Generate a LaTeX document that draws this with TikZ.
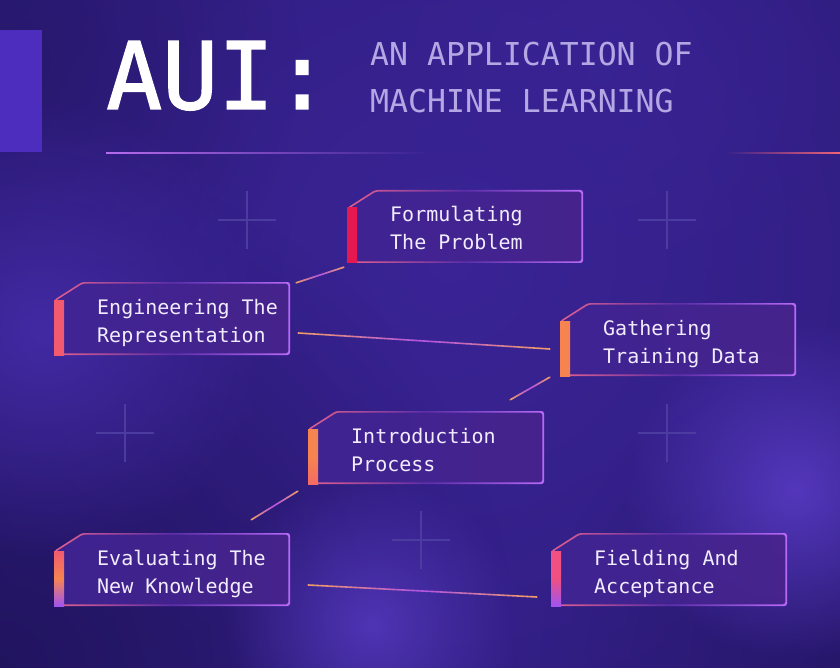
\documentclass[tikz,border=0pt]{standalone}
\usepackage{fontspec}
\setmonofont{DejaVu Sans Mono}
\newfontfamily\titlefont{DejaVu Sans Mono}[FakeBold=1.6]
\usetikzlibrary{calc,fadings}

\definecolor{bgbase}{RGB}{44,27,118}
\definecolor{bglight}{RGB}{58,36,150}
\definecolor{bgdark}{RGB}{30,18,88}
\definecolor{blobA}{RGB}{72,46,175}
\definecolor{blobB}{RGB}{88,58,195}
\definecolor{leftbar}{RGB}{76,45,190}
\definecolor{subcol}{RGB}{180,168,228}
\definecolor{ulviolet}{RGB}{184,108,240}
\definecolor{ulpink}{RGB}{240,100,120}
\definecolor{crosscol}{RGB}{76,60,160}
\definecolor{boxL}{RGB}{64,36,148}
\definecolor{boxR}{RGB}{72,36,140}
\definecolor{bdL}{RGB}{228,96,142}
\definecolor{bdM}{RGB}{92,46,168}
\definecolor{bdR}{RGB}{184,106,248}
\definecolor{txtcol}{RGB}{242,236,255}
\definecolor{lpeach}{RGB}{242,158,100}
\definecolor{lviolet}{RGB}{176,82,226}
\definecolor{crimson}{RGB}{230,24,80}
\definecolor{coral}{RGB}{242,90,112}
\definecolor{orng}{RGB}{246,132,80}
\definecolor{pinkb}{RGB}{240,80,130}
\definecolor{violb}{RGB}{160,84,240}

\tikzfading[name=glow, inner color=transparent!0, outer color=transparent!100]
\tikzfading[name=fadeR, left color=transparent!0, right color=transparent!100]
\tikzfading[name=fadeL, left color=transparent!100, right color=transparent!0]

\tikzset{
  boxbound/.style={rectangle, draw=none, inner sep=0pt, minimum width=236pt, minimum height=73pt},
  lbl/.style={anchor=base west, inner sep=0pt, text=txtcol, font=\ttfamily\fontsize{20}{24}\selectfont},
  crossline/.style={draw=crosscol, line width=1.4pt},
}

% #1 name, #2 left, #3 top, #4 bar top, #5 bar middle, #6 bar bottom, #7 line 1, #8 line 2
\newcommand\flowbox[8]{%
  \node[boxbound] (#1) at (#2+118,#3+36.5) {};
  \shade[left color=boxL, right color=boxR, fill opacity=0.9, rounded corners=2.5pt]
    (#2,#3+73) -- (#2,#3+18) -- (#2+28,#3) -- (#2+236,#3) -- (#2+236,#3+73) -- cycle;
  \shade[left color=bdL, right color=bdR, middle color=bdM, even odd rule, rounded corners=2.5pt]
    (#2,#3+73) -- (#2,#3+18) -- (#2+28,#3) -- (#2+236,#3) -- (#2+236,#3+73) -- cycle
    (#2+1.6,#3+71.4) -- (#2+1.6,#3+18.7) -- (#2+28.7,#3+1.6) -- (#2+234.4,#3+1.6) -- (#2+234.4,#3+71.4) -- cycle;
  \shade[top color=#4, bottom color=#6, middle color=#5] (#2,#3+18) rectangle (#2+10,#3+73);
  \node[lbl] (#1a) at (#2+43,#3+32) {#7};
  \node[lbl] (#1b) at (#2+43,#3+60) {#8};
}

\newcommand\plusmark[2]{%
  \draw[crossline] (#1,#2-29) -- (#1,#2+29) (#1-29,#2) -- (#1+29,#2);
}

\newcommand\gradconn[2]{%
  \foreach \k in {0,...,23}{%
    \pgfmathtruncatemacro\pc{abs((\k+0.5)/24*2-1)*100}%
    \draw[line width=1.6pt, line cap=round, color=lpeach!\pc!lviolet]
      ($(#1)!\k/24!(#2)$) -- ($(#1)!\k/24+1/24!(#2)$);
  }%
}

\begin{document}
\begin{tikzpicture}[x=1pt,y=-1pt]
\useasboundingbox (0,0) rectangle (840,668);
% background
\fill[bgbase] (0,0) rectangle (840,668);
\fill[bglight, path fading=glow] (450,260) circle (760);
\fill[bgdark, path fading=glow, opacity=0.8] (0,668) circle (520);
\fill[bgdark, path fading=glow, opacity=0.5] (0,60) circle (300);
\fill[bgdark, path fading=glow, opacity=0.5] (840,668) circle (300);
\fill[blobA, path fading=glow, opacity=0.8] (40,330) circle (230);
\fill[blobB, path fading=glow, opacity=0.9] (795,490) circle (170);
\fill[blobB, path fading=glow, opacity=0.8] (372,625) circle (150);
\fill[bglight, path fading=glow, opacity=0.7] (600,70) circle (260);

% left accent block
\fill[leftbar] (0,30) rectangle (42,152);

% title
\node[anchor=base west, inner sep=0pt, text=white, font=\titlefont\fontsize{93}{93}\selectfont] (title) at (106,109) {AUI:};
\node[anchor=base west, inner sep=0pt, text=subcol, font=\ttfamily\fontsize{31.5}{32}\selectfont] (sub1) at (370,66) {AN APPLICATION OF};
\node[anchor=base west, inner sep=0pt, text=subcol, font=\ttfamily\fontsize{31.5}{32}\selectfont] (sub2) at (370,113) {MACHINE LEARNING};

% underline
\fill[ulviolet, path fading=fadeR] (106,152.2) rectangle (430,154);
\fill[ulpink, path fading=fadeL] (725,152.2) rectangle (840,154);

% crosses
\plusmark{247}{220}
\plusmark{667}{220}
\plusmark{125}{433}
\plusmark{667}{433}
\plusmark{421}{540}

% boxes
\flowbox{b1}{347}{190}{crimson}{crimson}{crimson}{Formulating}{The Problem}
\flowbox{b2}{54}{282}{coral}{coral}{coral}{Engineering The}{Representation}
\flowbox{b3}{560}{303}{orng}{orng}{orng}{Gathering}{Training Data}
\flowbox{b4}{308}{411}{orng}{orng}{coral!60!orng}{Introduction}{Process}
\flowbox{b5}{54}{533}{coral}{orng}{violb}{Evaluating The}{New Knowledge}
\flowbox{b6}{551}{533}{pinkb}{pinkb}{violb}{Fielding And}{Acceptance}

% connectors
\coordinate (c1s) at ($(b2.north east)+(6,1)$);
\coordinate (c1e) at ($(b1.south west)+(-3,4)$);
\coordinate (c2s) at ($(b2.east)+(8,14.5)$);
\coordinate (c2e) at ($(b3.west)+(-10,9.5)$);
\coordinate (c3s) at ($(b3.south west)+(-10,1)$);
\coordinate (c3e) at ($(b4.north east)+(-34,-11)$);
\coordinate (c4s) at ($(b4.south west)+(-10,7)$);
\coordinate (c4e) at ($(b5.north east)+(-39,-13)$);
\coordinate (c5s) at ($(b5.east)+(18,15.5)$);
\coordinate (c5e) at ($(b6.west)+(-14,27.5)$);
\gradconn{c1s}{c1e}
\gradconn{c2s}{c2e}
\gradconn{c3s}{c3e}
\gradconn{c4s}{c4e}
\gradconn{c5s}{c5e}
\end{tikzpicture}
\end{document}
